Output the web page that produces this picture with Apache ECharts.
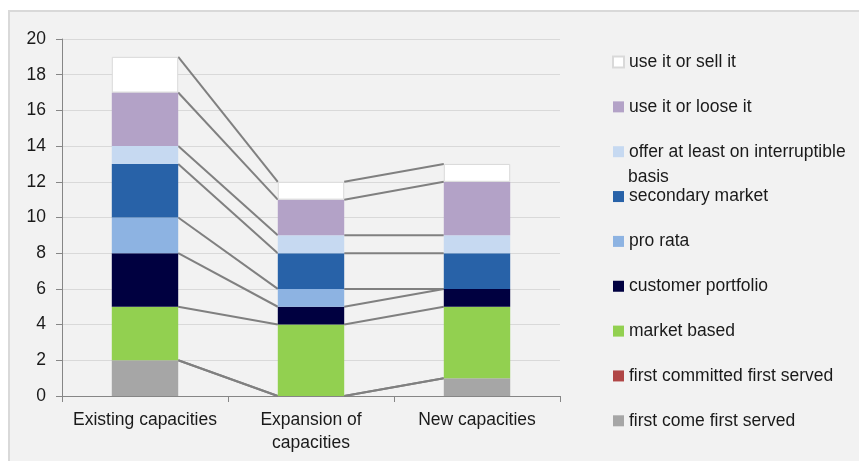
<!DOCTYPE html>
<html>
<head>
<meta charset="utf-8">
<script src="https://cdn.jsdelivr.net/npm/echarts@6/dist/echarts.min.js"></script>
<style>
html,body{margin:0;padding:0;background:#ffffff;}
#bg{position:absolute;left:8px;top:10px;width:851px;height:451px;background:#f2f2f2;border-top:2px solid #d9d9d9;border-left:2px solid #d9d9d9;box-sizing:border-box;}
#chart{position:absolute;left:0;top:0;width:859px;height:461px;}
</style>
</head>
<body>
<div id="bg"></div>
<div id="chart"></div>
<script>
const categories = ['Existing capacities', 'Expansion of\ncapacities', 'New capacities'];
const yTicks = { min: 0, max: 20, interval: 2 };

// stacking order: bottom to top
const seriesNames = [
  'first come first served',
  'first committed first served',
  'market based',
  'customer portfolio',
  'pro rata',
  'secondary market',
  'offer at least on interruptible basis',
  'use it or loose it',
  'use it or sell it'
];
const firstComeFirstServed     = [2, 0, 1];
const firstCommittedFirstServed = [0, 0, 0];
const marketBased              = [3, 4, 4];
const customerPortfolio        = [3, 1, 1];
const proRata                  = [2, 1, 0];
const secondaryMarket          = [3, 2, 2];
const offerInterruptible       = [1, 1, 1];
const useItOrLooseIt           = [3, 2, 3];
const useItOrSellIt            = [2, 1, 1];

const seriesValues = [firstComeFirstServed, firstCommittedFirstServed, marketBased, customerPortfolio,
  proRata, secondaryMarket, offerInterruptible, useItOrLooseIt, useItOrSellIt];
const colors = ['#a6a6a6', '#b04646', '#92d050', '#000040', '#8db3e2', '#2862a8', '#c6d9f1', '#b3a2c7', '#ffffff'];

const FONT = '"Liberation Sans", Arial, sans-serif';
const TXT = '#1a1a1a';

// cumulative tops for series lines
const cum = [];
let running = categories.map(() => 0);
seriesValues.forEach(vals => {
  running = running.map((r, i) => r + vals[i]);
  cum.push(running.slice());
});
const lineData = [];
cum.forEach(levels => {
  for (let i = 0; i < categories.length - 1; i++) {
    lineData.push([i, levels[i], levels[i + 1]]);
  }
});

const barSeries = seriesNames.map((name, k) => ({
  name: name,
  type: 'bar',
  stack: 'total',
  barWidth: '40%',
  data: seriesValues[k],
  itemStyle: k === seriesNames.length - 1
    ? { color: colors[k], borderColor: '#d9d9d9', borderWidth: 1 }
    : { color: colors[k] },
  emphasis: { disabled: true },
  z: 3
}));

const legendNames = seriesNames.slice().reverse();

const option = {
  animation: false,
  backgroundColor: 'transparent',
  textStyle: { fontFamily: FONT },
  grid: { left: 62, top: 39, width: 498, height: 357, containLabel: false },
  legend: {
    orient: 'vertical',
    left: 612,
    top: 53,
    padding: 0,
    itemWidth: 11,
    itemHeight: 11,
    itemGap: 26.85,
    icon: 'rect',
    selectedMode: false,
    data: legendNames,
    formatter: function (n) { return n === 'offer at least on interruptible basis' ? 'offer at least on interruptible' : n; },
    textStyle: { fontFamily: FONT, fontSize: 17.5, color: TXT }
  },
  graphic: [{
    type: 'text',
    left: 628,
    top: 168,
    style: { text: 'basis', font: '17.5px ' + FONT, fill: TXT }
  }],
  xAxis: {
    type: 'category',
    data: categories,
    axisLine: { lineStyle: { color: '#868686', width: 1 } },
    axisTick: { show: true, length: 6, lineStyle: { color: '#868686' } },
    axisLabel: { fontFamily: FONT, fontSize: 17.5, color: TXT, margin: 13, lineHeight: 23, interval: 0 },
    splitLine: { show: false }
  },
  yAxis: {
    type: 'value',
    min: yTicks.min,
    max: yTicks.max,
    interval: yTicks.interval,
    axisLine: { show: true, lineStyle: { color: '#868686', width: 1 } },
    axisTick: { show: true, length: 6, lineStyle: { color: '#868686' } },
    axisLabel: { fontFamily: FONT, fontSize: 17.5, color: TXT, margin: 16 },
    splitLine: { show: true, lineStyle: { color: '#d9d9d9', width: 1 } }
  },
  series: barSeries.concat([{
    type: 'custom',
    name: 'series lines',
    data: lineData,
    encode: { x: 0, y: [1, 2] },
    silent: true,
    z: 2,
    renderItem: function (params, api) {
      const i = api.value(0);
      const p0 = api.coord([i, api.value(1)]);
      const p1 = api.coord([i + 1, api.value(2)]);
      const half = api.size([1, 0])[0] * 0.4 / 2;
      return {
        type: 'line',
        shape: { x1: p0[0] + half, y1: p0[1], x2: p1[0] - half, y2: p1[1] },
        style: { stroke: '#808080', lineWidth: 2 }
      };
    }
  }])
};

const chart = echarts.init(document.getElementById('chart'), null, { renderer: 'canvas' });
chart.setOption(option);
</script>
</body>
</html>
